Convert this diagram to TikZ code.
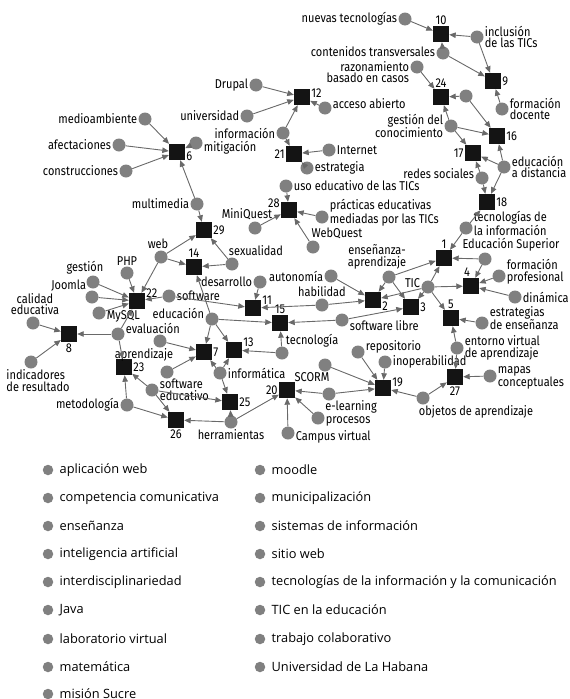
\documentclass[tikz,border=0pt]{standalone}
\usepackage{fontspec}
\setmainfont{Fira Sans}
\newfontfamily\lblfont[FakeStretch=0.86]{Fira Sans}
\newfontfamily\legfont{Open Sans}
\usetikzlibrary{arrows.meta}
\definecolor{kwgray}{RGB}{128,128,128}
\definecolor{edgegray}{RGB}{105,105,105}
\definecolor{clblack}{RGB}{20,20,20}

\begin{document}
\begin{tikzpicture}[x=1pt,y=-1pt,
  kw/.style={circle,fill=kwgray,inner sep=0pt,minimum size=13pt},
  cl/.style={rectangle,fill=clblack,inner sep=0pt,minimum size=16pt},
  lnk/.style={draw=edgegray,line width=0.9pt,-{Triangle[length=6.5pt,width=5.5pt]}},
  every label/.style={font=\lblfont\fontsize{12.8}{11.8}\selectfont,inner sep=1pt},
  leg/.style={circle,fill=kwgray,inner sep=0pt,minimum size=10.5pt},
  legtext/.style={font=\legfont\fontsize{12.8}{14}\selectfont,inner sep=2pt,label distance=4pt}]

\useasboundingbox (0,0) rectangle (570,699);

\node[cl,label=above:1] (k1) at (444,258) {};
\node[cl,label={[yshift=-6pt]right:2}] (k2) at (373,300) {};
\node[cl,label=right:3] (k3) at (411,307) {};
\node[cl,label={[xshift=-4pt]above:4}] (k4) at (471,286) {};
\node[cl,label=above:5] (k5) at (451,318) {};
\node[cl,label={[yshift=-4pt]right:6}] (k6) at (177,152) {};
\node[cl,label=right:7] (k7) at (204,352) {};
\node[cl,label=below:8] (k8) at (69,334) {};
\node[cl,label=right:9] (k9) at (493,81) {};
\node[cl,label=above:10] (k10) at (441,34) {};
\node[cl,label={[yshift=8pt]right:11}] (k11) at (253,308) {};
\node[cl,label={[yshift=4pt]right:12}] (k12) at (302,97) {};
\node[cl,label={[yshift=8pt]right:13}] (k13) at (234,350) {};
\node[cl,label=above:14] (k14) at (194,267) {};
\node[cl,label=above:15] (k15) at (280,323) {};
\node[cl,label=right:16] (k16) at (497,136) {};
\node[cl,label=left:17] (k17) at (473,153) {};
\node[cl,label=right:18] (k18) at (487,202) {};
\node[cl,label={[yshift=6pt]right:19}] (k19) at (383,388) {};
\node[cl,label=left:20] (k20) at (287,390) {};
\node[cl,label=left:21] (k21) at (294,154) {};
\node[cl,label={[yshift=8pt]right:22}] (k22) at (137,301) {};
\node[cl,label=right:23] (k23) at (124,367) {};
\node[cl,label=above:24] (k24) at (441,97) {};
\node[cl,label=right:25] (k25) at (230,402) {};
\node[cl,label=below:26] (k26) at (176,420) {};
\node[cl,label=below:27] (k27) at (455,377) {};
\node[cl,label={[yshift=7pt]left:28}] (k28) at (289,210) {};
\node[cl,label=right:29] (k29) at (204,230) {};

\node[kw,label=left:nuevas tecnologías] (nuevas) at (405,19) {};
\node[kw,label={[align=left]right:inclusión\\de las TICs}] (inclusion) at (477,37) {};
\node[kw,label={[yshift=1pt]left:contenidos transversales}] (contenidos) at (443,53) {};
\node[kw,label={[align=right,yshift=-5pt]left:razonamiento\\basado en casos}] (razonam) at (417,67) {};
\node[kw,label={[align=left]right:formación\\docente}] (formdoc) at (502,109) {};
\node[kw] (sinnombre) at (466,96) {};
\node[kw,label={[align=right]left:gestión del\\conocimiento}] (gestcon) at (451,126) {};
\node[kw,label={[align=left]right:educación\\a distancia}] (educdist) at (504,167) {};
\node[kw,label={[yshift=4pt]left:redes sociales}] (redes) at (482,178) {};
\node[kw,label={[align=left,yshift=5pt]right:tecnologías de\\la información}] (tecinfo) at (466,228) {};
\node[kw,label={[xshift=26pt]above:Educación Superior}] (edsup) at (485,259) {};
\node[kw,label={[align=left,yshift=4pt]right:formación\\profesional}] (formprof) at (499,276) {};
\node[kw,label=right:dinámica] (dinamica) at (515,297) {};
\node[kw,label={[yshift=4pt]left:TIC}] (tic) at (428,287) {};
\node[kw,label={[align=center,xshift=-12pt]above:enseñanza-\\aprendizaje}] (ensap) at (389,277) {};
\node[kw,label={[align=left,yshift=5pt]right:estrategias\\de enseñanza}] (estrat) at (482,323) {};
\node[kw,label={[align=left]right:entorno virtual\\de aprendizaje}] (entorno) at (457,348) {};
\node[kw,label={[align=left,yshift=-2pt]right:mapas\\conceptuales}] (mapas) at (490,376) {};
\node[kw,label={[xshift=53pt]below:objetos de aprendizaje}] (objetos) at (423,398) {};
\node[kw,label={[yshift=5pt]right:repositorio}] (repos) at (358,352) {};
\node[kw,label=right:inoperabilidad] (inoper) at (385,362) {};
\node[kw,label={[xshift=-13pt]below:SCORM}] (scorm) at (325,365) {};
\node[kw,label={[xshift=22pt,yshift=1pt]below:e-learning}] (elearn) at (329,394) {};
\node[kw,label={[yshift=-3pt]right:procesos}] (procesos) at (318,418) {};
\node[kw,label={[yshift=-4pt]right:Campus virtual}] (campus) at (288,433) {};
\node[kw,label=below:herramientas] (herram) at (231,422) {};
\node[kw,label=right:informática] (informat) at (220,373) {};
\node[kw,label={[align=left]right:software\\educativo}] (swedu) at (152,390) {};
\node[kw,label=left:metodología] (metod) at (127,405) {};
\node[kw,label={[yshift=6pt]right:evaluación}] (evalua) at (118,334) {};
\node[kw,label={[xshift=-16pt]below:aprendizaje}] (aprend) at (160,341) {};
\node[kw] (sinnombreb) at (167,372) {};
\node[kw,label={[yshift=-3pt]right:MySQL}] (mysql) at (99,313) {};
\node[kw,label=above left:Joomla] (joomla) at (92,297) {};
\node[kw,label={[xshift=-8pt]above:gestión}] (gestion) at (93,282) {};
\node[kw,label=above:PHP] (php) at (127,273) {};
\node[kw,label={[xshift=-3pt]above:web}] (web) at (161,257) {};
\node[kw,label=right:software] (software) at (169,296) {};
\node[kw,label={[yshift=6pt]left:educación}] (educacion) at (212,319) {};
\node[kw,label=left:desarrollo] (desarr) at (260,282) {};
\node[kw,label=left:autonomía] (autonom) at (331,276) {};
\node[kw,label=above:habilidad] (habil) at (322,305) {};
\node[kw,label={[yshift=-6pt]right:software libre}] (swlibre) at (342,320) {};
\node[kw,label={[xshift=-2pt]above right:tecnología}] (tecnol) at (282,353) {};
\node[kw,label=left:multimedia] (multim) at (197,204) {};
\node[kw,label={[xshift=24pt]above:sexualidad}] (sexual) at (232,264) {};
\node[kw,label={[xshift=-8pt]above:MiniQuest}] (miniq) at (255,228) {};
\node[kw,label={[xshift=24pt]above:WebQuest}] (webq) at (313,247) {};
\node[kw,label={[align=left,yshift=4pt]right:prácticas educativas\\mediadas por las TICs}] (practicas) at (322,217) {};
\node[kw,label=right:uso educativo de las TICs] (usoedu) at (286,186) {};
\node[kw,label=right:estrategia] (estrateg) at (307,168) {};
\node[kw,label=right:Internet] (internet) at (329,150) {};
\node[kw,label=left:información] (informac) at (283,133) {};
\node[kw,label={[yshift=4pt]right:acceso abierto}] (acceso) at (325,108) {};
\node[kw,label=left:universidad] (univ) at (247,116) {};
\node[kw,label=left:Drupal] (drupal) at (256,85) {};
\node[kw,label={[yshift=-5pt]right:mitigación}] (mitig) at (196,143) {};
\node[kw,label=left:medioambiente] (medioamb) at (145,119) {};
\node[kw,label=left:afectaciones] (afect) at (119,145) {};
\node[kw,label=left:construcciones] (construc) at (126,171) {};
\node[kw,label={[align=center,xshift=2pt]above:calidad\\educativa}] (calidad) at (33,323) {};
\node[kw,label={[align=left,xshift=7pt]below:indicadores\\de resultado}] (indicad) at (31,362) {};

\draw[lnk] (nuevas) -- (k10);
\draw[lnk] (inclusion) -- (k10);
\draw[lnk] (contenidos) -- (k10);
\draw[lnk] (contenidos) -- (k9);
\draw[lnk] (inclusion) -- (k9);
\draw[lnk] (formdoc) -- (k9);

\draw[lnk] (razonam) -- (k24);
\draw[lnk] (sinnombre) -- (k24);
\draw[lnk] (gestcon) -- (k24);
\draw[lnk] (sinnombre) -- (k16);
\draw[lnk] (gestcon) -- (k16);
\draw[lnk] (educdist) -- (k16);
\draw[lnk] (gestcon) -- (k17);
\draw[lnk] (educdist) -- (k17);
\draw[lnk] (redes) -- (k17);
\draw[lnk] (redes) -- (k18);
\draw[lnk] (educdist) -- (k18);
\draw[lnk] (tecinfo) -- (k18);

\draw[lnk] (tecinfo) -- (k1);
\draw[lnk] (ensap) -- (k1);
\draw[lnk] (tic) -- (k1);
\draw[lnk] (edsup) -- (k1);
\draw[lnk] (edsup) -- (k4);
\draw[lnk] (formprof) -- (k4);
\draw[lnk] (dinamica) -- (k4);
\draw[lnk] (tic) -- (k4);
\draw[lnk] (tic) -- (k3);
\draw[lnk] (ensap) -- (k3);
\draw[lnk] (swlibre) -- (k3);
\draw[lnk] (ensap) -- (k2);
\draw[lnk] (tic) -- (k2);
\draw[lnk] (autonom) -- (k2);
\draw[lnk] (habil) -- (k2);
\draw[lnk] (tic) -- (k5);
\draw[lnk] (estrat) -- (k5);
\draw[lnk] (entorno) -- (k5);

\draw[lnk] (entorno) -- (k27);
\draw[lnk] (mapas) -- (k27);
\draw[lnk] (objetos) -- (k27);
\draw[lnk] (objetos) -- (k19);
\draw[lnk] (repos) -- (k19);
\draw[lnk] (inoper) -- (k19);
\draw[lnk] (scorm) -- (k19);
\draw[lnk] (elearn) -- (k19);
\draw[lnk] (elearn) -- (k20);
\draw[lnk] (procesos) -- (k20);
\draw[lnk] (campus) -- (k20);
\draw[lnk] (herram) -- (k20);

\draw[lnk] (herram) -- (k25);
\draw[lnk] (herram) -- (k26);
\draw[lnk] (informat) -- (k25);
\draw[lnk] (swedu) -- (k25);
\draw[lnk] (swedu) -- (k26);
\draw[lnk] (metod) -- (k26);
\draw[lnk] (metod) -- (k23);
\draw[lnk] (swedu) -- (k23);
\draw[lnk] (evalua) -- (k23);
\draw[lnk] (evalua) -- (k8);
\draw[lnk] (calidad) -- (k8);
\draw[lnk] (indicad) -- (k8);

\draw[lnk] (evalua) -- (k22);
\draw[lnk] (mysql) -- (k22);
\draw[lnk] (joomla) -- (k22);
\draw[lnk] (gestion) -- (k22);
\draw[lnk] (php) -- (k22);
\draw[lnk] (web) -- (k22);
\draw[lnk] (software) -- (k22);
\draw[lnk] (software) -- (k11);
\draw[lnk] (desarr) -- (k11);
\draw[lnk] (habil) -- (k11);

\draw[lnk] (educacion) -- (k15);
\draw[lnk] (tecnol) -- (k15);
\draw[lnk] (swlibre) -- (k15);
\draw[lnk] (tecnol) -- (k13);
\draw[lnk] (educacion) -- (k13);
\draw[lnk] (informat) -- (k13);
\draw[lnk] (educacion) -- (k7);
\draw[lnk] (informat) -- (k7);
\draw[lnk] (aprend) -- (k7);
\draw[lnk] (sinnombreb) -- (k7);
\draw[lnk] (educacion) -- (k14);
\draw[lnk] (web) -- (k14);
\draw[lnk] (sexual) -- (k14);
\draw[lnk] (web) -- (k29);
\draw[lnk] (sexual) -- (k29);
\draw[lnk] (multim) -- (k29);

\draw[lnk] (multim) -- (k6);
\draw[lnk] (medioamb) -- (k6);
\draw[lnk] (afect) -- (k6);
\draw[lnk] (construc) -- (k6);
\draw[lnk] (mitig) -- (k6);
\draw[lnk] (drupal) -- (k12);
\draw[lnk] (univ) -- (k12);
\draw[lnk] (acceso) -- (k12);
\draw[lnk] (informac) -- (k12);
\draw[lnk] (informac) -- (k21);
\draw[lnk] (internet) -- (k21);
\draw[lnk] (estrateg) -- (k21);
\draw[lnk] (usoedu) -- (k28);
\draw[lnk] (miniq) -- (k28);
\draw[lnk] (practicas) -- (k28);
\draw[lnk] (webq) -- (k28);

\node[leg,label={[legtext]right:aplicación web}] (l1) at (48,470) {};
\node[leg,label={[legtext]right:competencia comunicativa}] (l2) at (48,498) {};
\node[leg,label={[legtext]right:enseñanza}] (l3) at (48,526) {};
\node[leg,label={[legtext]right:inteligencia artificial}] (l4) at (48,554) {};
\node[leg,label={[legtext]right:interdisciplinariedad}] (l5) at (48,582) {};
\node[leg,label={[legtext]right:Java}] (l6) at (48,610) {};
\node[leg,label={[legtext]right:laboratorio virtual}] (l7) at (48,639) {};
\node[leg,label={[legtext]right:matemática}] (l8) at (48,667) {};
\node[leg,label={[legtext]right:misión Sucre}] (l9) at (48,694) {};
\node[leg,label={[legtext]right:moodle}] (l10) at (260,470) {};
\node[leg,label={[legtext]right:municipalización}] (l11) at (260,498) {};
\node[leg,label={[legtext]right:sistemas de información}] (l12) at (260,526) {};
\node[leg,label={[legtext]right:sitio web}] (l13) at (260,554) {};
\node[leg,label={[legtext]right:tecnologías de la información y la comunicación}] (l14) at (260,582) {};
\node[leg,label={[legtext]right:TIC en la educación}] (l15) at (260,610) {};
\node[leg,label={[legtext]right:trabajo colaborativo}] (l16) at (260,639) {};
\node[leg,label={[legtext]right:Universidad de La Habana}] (l17) at (260,667) {};

\end{tikzpicture}
\end{document}
